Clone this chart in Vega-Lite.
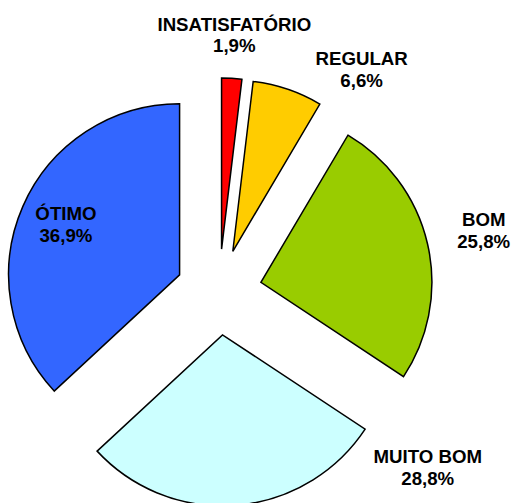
{
  "$schema": "https://vega.github.io/schema/vega-lite/v6.json",
  "width": 513,
  "height": 503,
  "padding": 0,
  "autosize": {"type": "none"},
  "background": "white",
  "config": {"view": {"stroke": null}},
  "data": {
    "values": [
      {"categoria": "INSATISFATÓRIO", "percentual": 1.9},
      {"categoria": "REGULAR", "percentual": 6.6},
      {"categoria": "BOM", "percentual": 25.8},
      {"categoria": "MUITO BOM", "percentual": 28.8},
      {"categoria": "ÓTIMO", "percentual": 36.9}
    ]
  },
  "transform": [
    {"window": [{"op": "sum", "field": "percentual", "as": "fim"}], "frame": [null, 0]},
    {"calculate": "datum.fim - datum.percentual", "as": "inicio"},
    {"calculate": "(datum.fim - datum.percentual / 2) * 2 * PI / 100", "as": "a"},
    {"window": [{"op": "lag", "field": "a", "as": "aPrev"}]},
    {"calculate": "43 * sin(datum.a)", "as": "ex"},
    {"calculate": "-43 * cos(datum.a)", "as": "ey"},
    {"calculate": "sin(datum.a) < 0 ? datum.a : min(max(datum.a, datum.aPrev == null ? 0 : datum.aPrev + 32 * PI / 180), 123 * PI / 180)", "as": "la"},
    {"calculate": "sin(datum.a) < 0 ? 124 : 213 + 16 * abs(sin(datum.la)) + 20 * max(0, datum.a - datum.la)", "as": "R"},
    {"calculate": "datum.ex + datum.R * sin(datum.la)", "as": "lx"},
    {"calculate": "datum.ey - datum.R * cos(datum.la)", "as": "ly"},
    {"calculate": "datum.categoria + '\\n' + replace(format(datum.percentual, '.1f'), '.', ',') + '%'", "as": "rotulo"}
  ],
  "layer": [
    {
      "mark": {"type": "arc", "radius": 171, "stroke": "#000000", "strokeWidth": 1.5},
      "encoding": {
        "theta": {"field": "inicio", "type": "quantitative", "stack": null, "scale": {"domain": [0, 100], "range": [0, 6.283185307179586]}},
        "theta2": {"field": "fim"},
        "x": {"field": "ex", "type": "quantitative", "axis": null, "scale": {"domain": [-219, 294], "range": [0, 513], "nice": false, "zero": false}},
        "y": {"field": "ey", "type": "quantitative", "axis": null, "scale": {"domain": [-292, 211], "range": [0, 503], "nice": false, "zero": false}},
        "color": {
          "field": "categoria",
          "type": "nominal",
          "legend": null,
          "scale": {
            "domain": ["INSATISFATÓRIO", "REGULAR", "BOM", "MUITO BOM", "ÓTIMO"],
            "range": ["#FF0000", "#FFCC00", "#99CC00", "#CCFFFF", "#3366FF"]
          }
        }
      }
    },
    {
      "mark": {
        "type": "text",
        "align": "center",
        "baseline": "middle",
        "dy": -10.75,
        "font": "Liberation Sans",
        "fontWeight": "bold",
        "fontSize": 18.67,
        "lineHeight": 21.5,
        "lineBreak": "\n",
        "color": "#000000"
      },
      "encoding": {
        "x": {"field": "lx", "type": "quantitative"},
        "y": {"field": "ly", "type": "quantitative"},
        "text": {"field": "rotulo"}
      }
    }
  ]
}
